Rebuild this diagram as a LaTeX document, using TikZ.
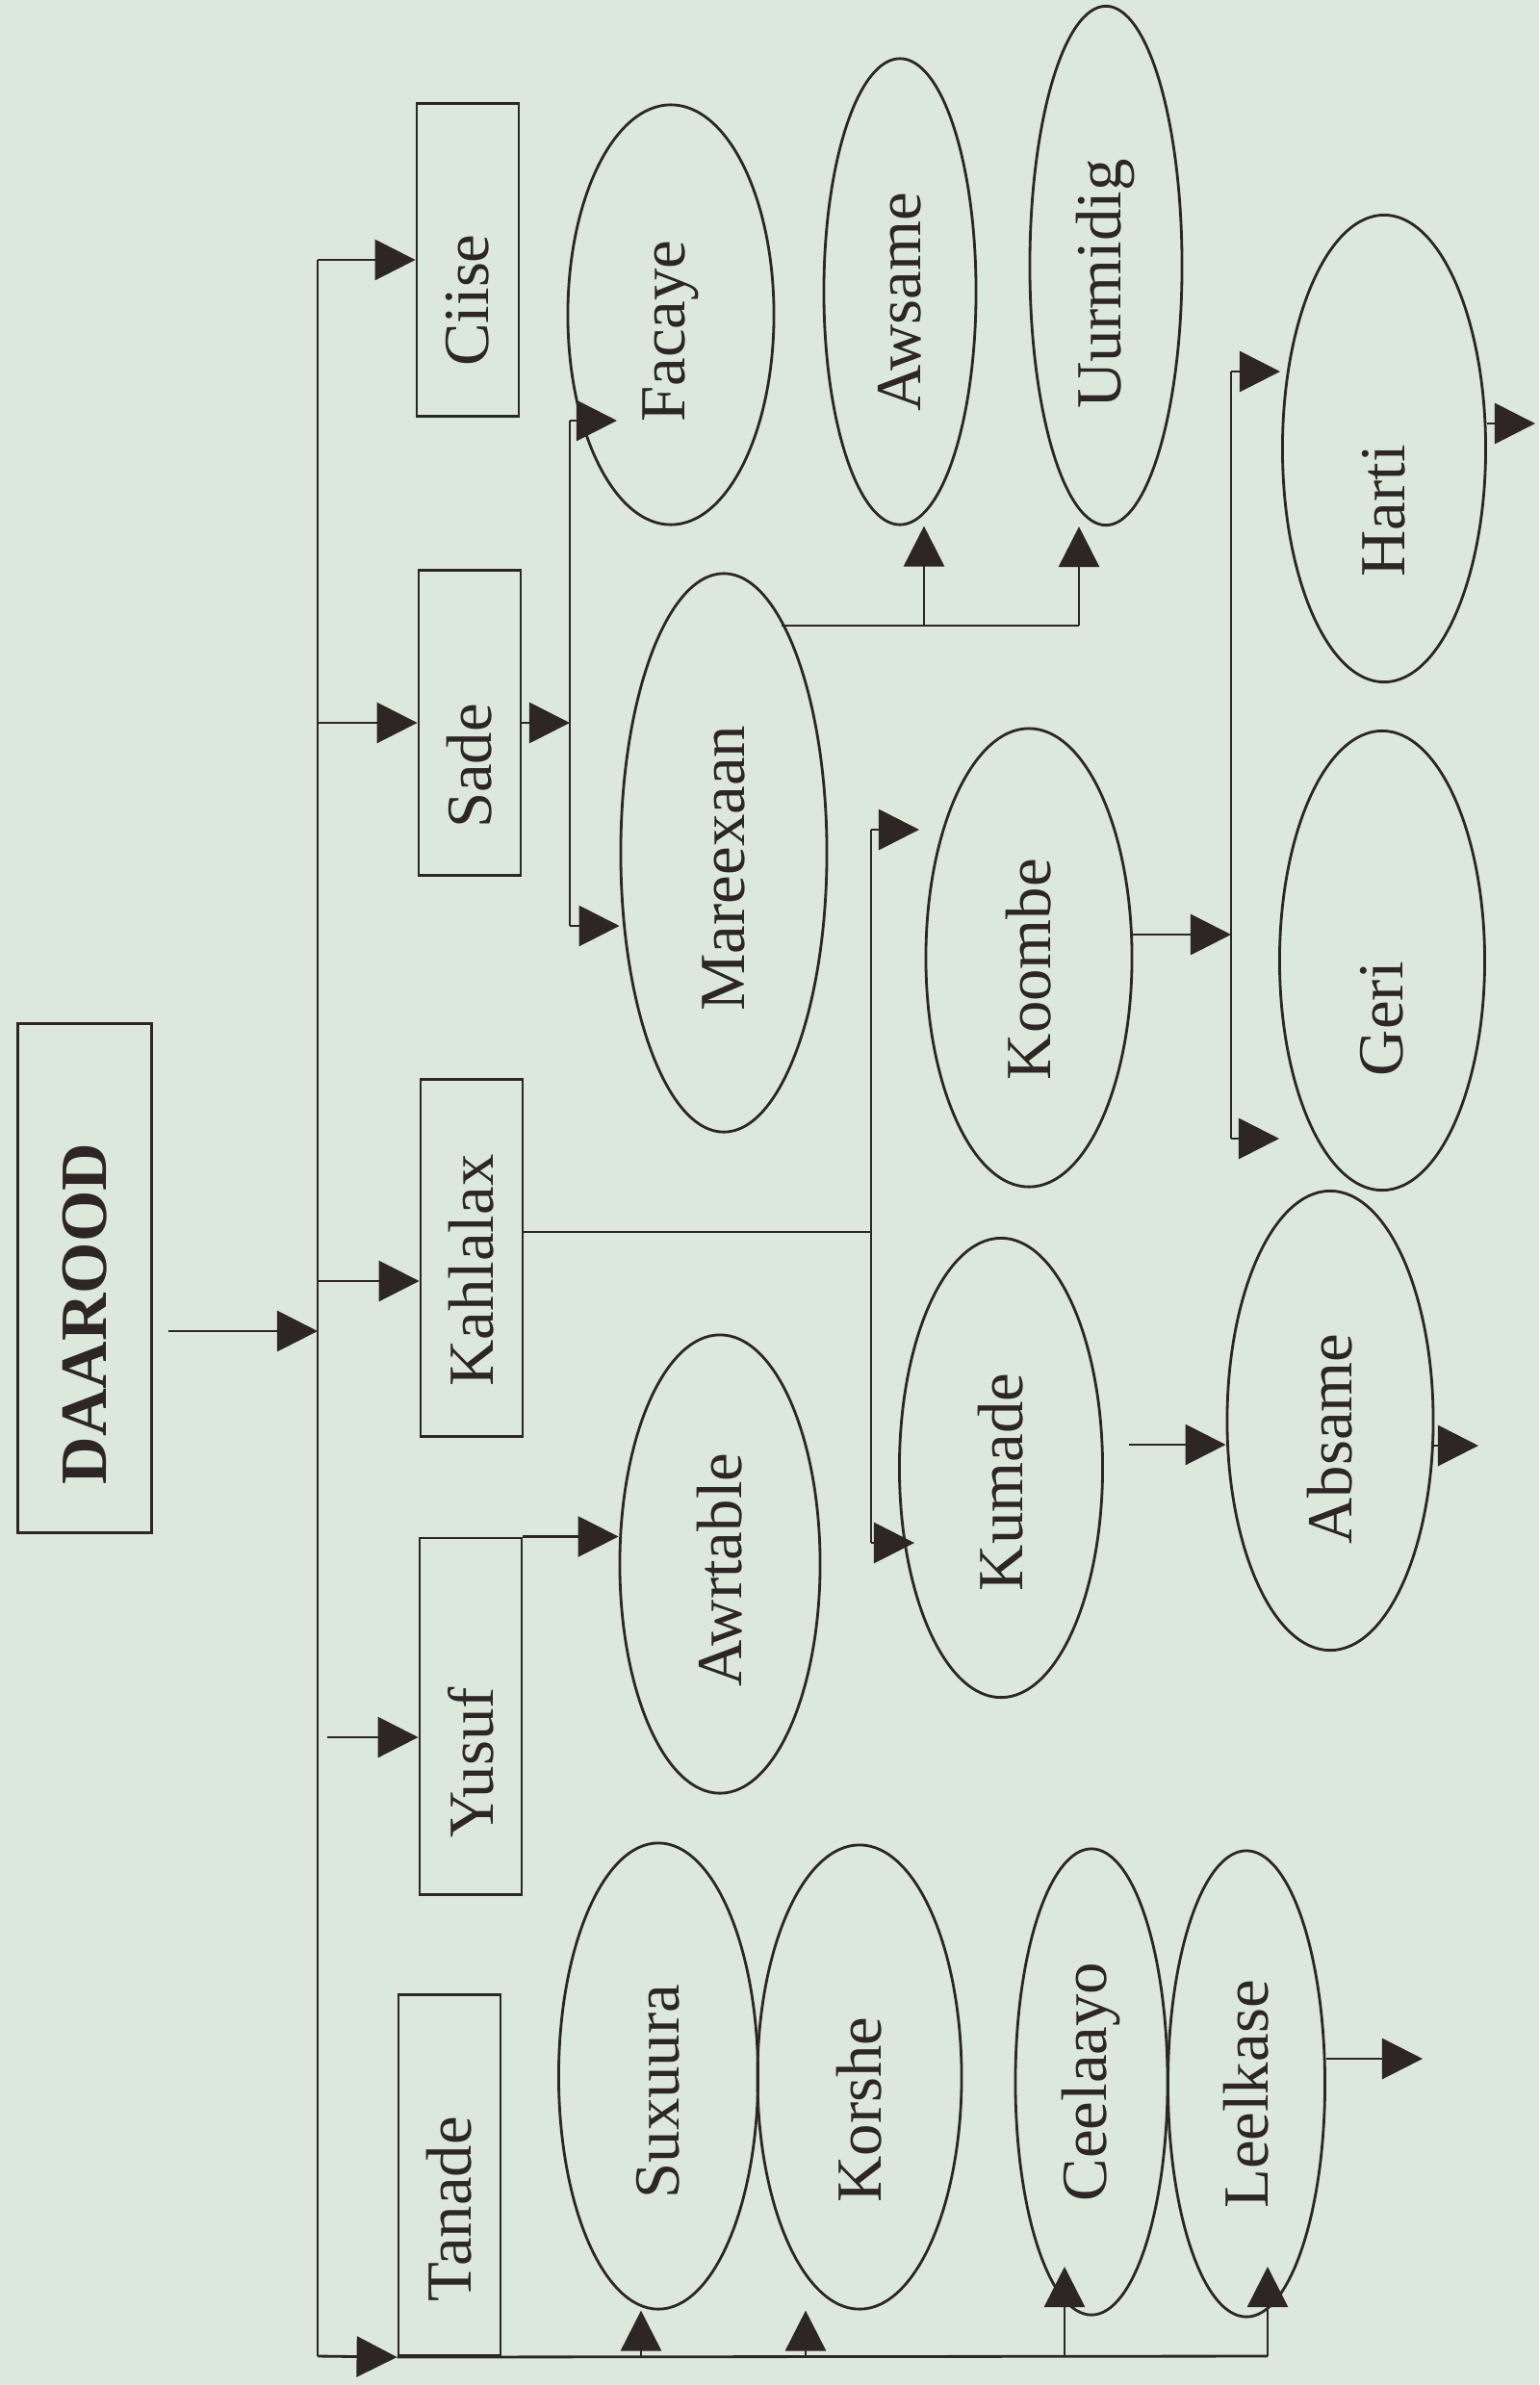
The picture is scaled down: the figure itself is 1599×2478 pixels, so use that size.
\documentclass[tikz,border=0pt]{standalone}
\usepackage{fontspec}
\setmainfont{Liberation Serif}
\usetikzlibrary{shapes.geometric,arrows.meta}
\definecolor{paper}{RGB}{220,232,220}
\definecolor{ink}{RGB}{45,38,36}
\newcommand{\vlab}[2][0cm]{\rotatebox{90}{\kern-#1\kern-#1#2}}

\begin{document}
\begin{tikzpicture}[x=0.01cm,y=-0.01cm,line width=0.8pt,color=ink,
  arr/.style={-{Triangle[length=0.42cm,width=0.42cm]}},
  box/.style={draw,rectangle,inner sep=0pt,minimum width=1.06cm,font=\fontsize{19}{22}\selectfont},
  clan/.style={draw,ellipse,inner sep=0pt,font=\fontsize{19}{22}\selectfont}]
\fill[paper] (0,0) rectangle (1599,2478);
\useasboundingbox (0,0) rectangle (1599,2478);

\node[box,minimum width=1.39cm,minimum height=5.29cm,font=\fontsize{19.5}{22}\selectfont\bfseries] (daarood) at (88,1328) {\vlab[0.37cm]{DAAROOD}};
\node[box,minimum height=3.25cm] (ciise) at (486,270) {\vlab[0.42cm]{Ciise}};
\node[box,minimum height=3.17cm] (sade) at (488,751) {\vlab[0.45cm]{Sade}};
\node[box,minimum height=3.71cm] (kahlalax) at (490,1307) {\vlab[0.13cm]{Kahlalax}};
\node[box,minimum height=3.70cm] (yusuf) at (489,1783) {\vlab[0.48cm]{Yusuf}};
\node[box,minimum height=3.75cm] (tanade) at (467,2260) {\vlab[0.35cm]{Tanade}};

\node[clan,minimum width=2.14cm,minimum height=4.36cm] (facaye) at (697,327) {\vlab[0.17cm]{Facaye}};
\node[clan,minimum width=2.14cm,minimum height=5.80cm] (mareexaan) at (752,886) {\vlab[0.16cm]{Mareexaan}};
\node[clan,minimum width=1.58cm,minimum height=4.84cm] (awsame) at (935,303) {\vlab[0.11cm]{Awsame}};
\node[clan,minimum width=1.58cm,minimum height=5.39cm] (uurmidig) at (1149,276) {\vlab[0.19cm]{Uurmidig}};
\node[clan,minimum width=2.11cm,minimum height=4.85cm] (harti) at (1438,466) {\vlab[0.65cm]{Harti}};
\node[clan,minimum width=2.13cm,minimum height=4.77cm] (geri) at (1436,998) {\vlab[0.6cm]{Geri}};
\node[clan,minimum width=2.14cm,minimum height=4.76cm] (koombe) at (1069,995) {\vlab[0.12cm]{Koombe}};
\node[clan,minimum width=2.11cm,minimum height=4.77cm] (kumade) at (1040,1525) {\vlab[0.15cm]{Kumade}};
\node[clan,minimum width=2.14cm,minimum height=4.77cm] (absame) at (1382,1476) {\vlab[0.19cm]{Absame}};
\node[clan,minimum width=2.08cm,minimum height=4.76cm] (awrtable) at (748,1625) {\vlab[0.06cm]{Awrtable}};
\node[clan,minimum width=2.07cm,minimum height=4.84cm] (suxuura) at (684,2157) {\vlab[0.16cm]{Suxuura}};
\node[clan,minimum width=2.12cm,minimum height=4.82cm] (korshe) at (893,2158) {\vlab[0.34cm]{Korshe}};
\node[clan,minimum width=1.58cm,minimum height=4.84cm] (ceelaayo) at (1134,2163) {\vlab{Ceelaayo}};
\node[clan,minimum width=1.63cm,minimum height=4.84cm] (leelkase) at (1295,2165) {\vlab[0.11cm]{Leelkase}};

\coordinate (ttop) at (330,270);
\coordinate (tbot) at (330,2448);
\coordinate (din) at (175,1383);
\coordinate (kin) at (330,1331);
\coordinate (yin) at (340,1805);
\draw (ttop) -- (tbot);
\draw[arr] (din) -- (din -| ttop);
\draw[arr] (ttop) -- (ciise.west);
\draw[arr] (ttop |- sade.west) -- (sade.west);
\draw[arr] (kin) -- (kin -| kahlalax.west);
\draw[arr] (yin) -- (yin -| yusuf.west);
\draw[arr] (tbot) -- (tanade.south west);

\coordinate (sf) at (592,437);
\coordinate (sm) at (592,962);
\coordinate (fa) at (641,437);
\draw (sf) -- (sm);
\draw[arr] (sade.east) -- (sade.east -| sf);
\draw[arr] (sf) -- (fa);
\draw[arr] (sm) -- (sm -| mareexaan.west);

\coordinate (mx) at (812,650);
\coordinate (aw) at (960,650);
\coordinate (uu) at (1121,650);
\draw (mx) -- (uu);
\draw[arr] (aw) -- (aw |- awsame.south);
\draw[arr] (uu) -- (uu |- uurmidig.south);

\coordinate (kout) at (905,1280);
\coordinate (kf) at (905,862);
\coordinate (kt) at (905,1603);
\coordinate (ko) at (955,862);
\coordinate (kb) at (950,1603);
\draw (kahlalax.east |- kout) -- (kout);
\draw (kf) -- (kt);
\draw[arr] (kf) -- (ko);
\draw[arr] (kt) -- (kb);

\coordinate (kx) at (1279,971);
\coordinate (hf) at (1279,386);
\coordinate (hg) at (1279,1183);
\coordinate (ha) at (1330,386);
\coordinate (ge) at (1329,1183);
\draw (hf) -- (hg);
\draw[arr] (koombe.east |- kx) -- (kx);
\draw[arr] (hf) -- (ha);
\draw[arr] (hg) -- (ge);

\coordinate (hout) at (1595,440);
\draw[arr] (harti.east |- hout) -- (hout);
\coordinate (kum) at (1173,1501);
\draw[arr] (kum) -- (kum -| absame.west);
\coordinate (aout) at (1536,1502);
\draw[arr] (absame.east |- aout) -- (aout);
\draw[arr] (yusuf.north east) -- (yusuf.north east -| awrtable.west);

\coordinate (sx) at (666,2448);
\coordinate (kr) at (837,2448);
\coordinate (ce) at (1106,2448);
\coordinate (le) at (1317,2448);
\coordinate (cet) at (1106,2355);
\coordinate (let) at (1317,2355);
\draw (tanade.south west) -- (le);
\draw[arr] (sx) -- (sx |- suxuura.south);
\draw[arr] (kr) -- (kr |- korshe.south);
\draw[arr] (ce) -- (cet);
\draw[arr] (le) -- (let);
\coordinate (lout) at (1478,2139);
\draw[arr] (leelkase.east |- lout) -- (lout);
\end{tikzpicture}
\end{document}
